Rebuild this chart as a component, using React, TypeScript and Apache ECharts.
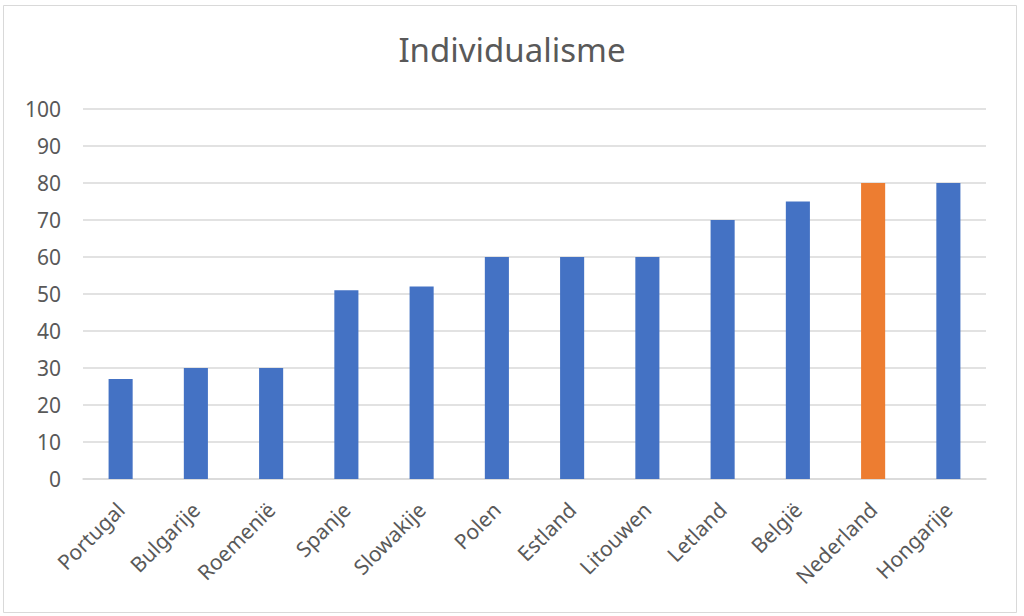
import * as echarts from "echarts";
import { useEffect, useRef } from "react";

const countries = [
  "Portugal",
  "Bulgarije",
  "Roemenië",
  "Spanje",
  "Slowakije",
  "Polen",
  "Estland",
  "Litouwen",
  "Letland",
  "België",
  "Nederland",
  "Hongarije",
];
const scores = [27, 30, 30, 51, 52, 60, 60, 60, 70, 75, 80, 80];
const highlight = "Nederland";

const BLUE = "#4472c4";
const ORANGE = "#ed7d31";
const TEXT = "#595959";
const FONT = "'Noto Sans', 'Open Sans', sans-serif";

export default function App() {
  const chartRef = useRef<HTMLDivElement>(null);

  useEffect(() => {
    if (!chartRef.current) return;
    const chart = echarts.init(chartRef.current, undefined, { renderer: "svg" });

    chart.setOption({
      animation: false,
      backgroundColor: "#ffffff",
      textStyle: { fontFamily: FONT },
      title: {
        text: "Individualisme",
        left: "center",
        top: 28,
        textStyle: { color: TEXT, fontSize: 33, fontWeight: "normal", fontFamily: FONT },
      },
      graphic: [
        {
          type: "rect",
          shape: { x: 3.5, y: 5.5, width: 1013, height: 607 },
          style: { fill: "none", stroke: "#d9d9d9", lineWidth: 1 },
          silent: true,
        },
      ],
      grid: { left: 83, right: 38, top: 109, bottom: 137 },
      xAxis: {
        type: "category",
        data: countries,
        axisTick: { show: false },
        axisLine: { lineStyle: { color: "#d9d9d9", width: 1.5 } },
        axisLabel: {
          rotate: 45,
          interval: 0,
          margin: 27,
          color: TEXT,
          fontSize: 21,
          fontFamily: FONT,
        },
      },
      yAxis: {
        type: "value",
        min: 0,
        max: 100,
        interval: 10,
        axisLine: { show: false },
        axisTick: { show: false },
        splitLine: { lineStyle: { color: "#d9d9d9", width: 1.5 } },
        axisLabel: { color: TEXT, fontSize: 21, margin: 22, fontFamily: FONT },
      },
      series: [
        {
          type: "bar",
          barWidth: "32%",
          data: countries.map((c, i) => ({
            value: scores[i],
            itemStyle: { color: c === highlight ? ORANGE : BLUE },
          })),
        },
      ],
    });

    return () => chart.dispose();
  }, []);

  return (
    <div
      ref={chartRef}
      style={{ position: "absolute", left: 0, top: 0, width: 1024, height: 616 }}
    />
  );
}
